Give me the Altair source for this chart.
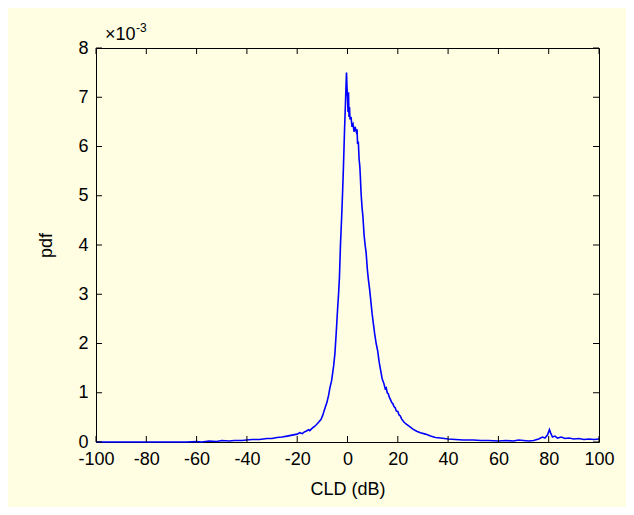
import altair as alt
import pandas as pd

# CLD (dB) values and pdf values (in units of 1e-3)
cld = [-100, -80, -64, -60, -58, -55, -52, -50, -47, -45, -42, -40, -38, -35, -32, -30,
       -28, -26, -24, -22, -20, -19, -18, -17, -16.5, -15.5, -15, -14, -13.5, -13, -12.4, -11.5, -10.5, -9.8,
       -9, -8.2, -7.5, -7, -6.3, -5.5, -5.0, -4.5, -4.0, -3.5, -3.2, -2.8, -2.3, -2.0,
       -1.6, -1.2, -0.8, -0.4, -0.2, 0.0, 0.2, 0.4, 0.6, 0.8, 1.0, 1.4, 1.8, 2.2, 2.6,
       3.0, 3.5, 3.8, 4.0, 4.3, 4.6, 4.9, 5.1, 5.4, 5.8, 6.1, 6.6, 7.0, 7.4, 7.9, 8.3,
       8.8, 9.3, 9.8, 10.3, 10.8, 11.4, 12.0, 12.6, 13.2, 13.8, 14.4, 15.0, 15.4, 15.8, 16.2, 16.7,
       17.1, 17.6, 18.0, 18.5, 19.0, 19.4, 20.0, 20.5, 21.0, 21.5, 22.5, 23.5, 24.5, 26, 27.5, 29, 31, 33, 35, 37, 40,
       43, 46, 50, 53, 56, 60, 63, 66, 68, 70, 72, 74, 76, 77.5, 78.5, 79.5, 80.3, 80.8,
       81.5, 82.5, 83.5, 85, 86.5, 88, 90, 92, 94, 96, 98, 100]
pdf = [0, 0, 0.0, 0.01, 0.0, 0.02, 0.01, 0.03, 0.02, 0.03, 0.03, 0.04, 0.05, 0.05, 0.07, 0.07,
       0.09, 0.10, 0.12, 0.14, 0.16, 0.19, 0.17, 0.21, 0.22, 0.25, 0.23, 0.28, 0.30, 0.32, 0.35, 0.40, 0.46, 0.55,
       0.68, 0.80, 0.95, 1.10, 1.25, 1.55, 1.80, 2.2, 2.65, 3.05, 3.35, 4.0, 4.6, 5.0,
       5.6, 6.3, 6.9, 7.5, 7.2, 7.0, 6.7, 7.1, 6.6, 6.8, 6.55, 6.6, 6.4, 6.45, 6.3,
       6.4, 6.3, 6.35, 6.05, 6.1, 5.75, 5.6, 5.4, 5.05, 4.75, 4.6, 4.2, 4.0, 3.85, 3.5, 3.3,
       3.1, 2.85, 2.6, 2.4, 2.2, 2.0, 1.85, 1.62, 1.45, 1.28, 1.2, 1.08, 1.1, 1.0, 0.98, 0.9,
       0.86, 0.8, 0.78, 0.72, 0.69, 0.63, 0.62, 0.55, 0.53, 0.47, 0.40, 0.36, 0.32, 0.26, 0.22, 0.19, 0.16, 0.12, 0.09, 0.08, 0.06,
       0.05, 0.04, 0.04, 0.03, 0.03, 0.02, 0.03, 0.02, 0.04, 0.03, 0.02, 0.03, 0.06, 0.10, 0.08, 0.14, 0.25, 0.18,
       0.10, 0.12, 0.08, 0.10, 0.07, 0.08, 0.06, 0.07, 0.05, 0.06, 0.05, 0.06]

x_ticks = [-100, -80, -60, -40, -20, 0, 20, 40, 60, 80, 100]
y_ticks = [0, 1, 2, 3, 4, 5, 6, 7, 8]

W, H = 503, 394
CREAM = "#FFFEE3"
FONT = "Liberation Sans"
TL = 6  # tick length

curve = pd.DataFrame({"cld": cld, "pdf": pdf})
xt = pd.DataFrame({"cld": x_ticks})
yt = pd.DataFrame({"pdf": y_ticks})

xscale = alt.Scale(domain=[-100, 100], nice=False, zero=False)
yscale = alt.Scale(domain=[0, 8], nice=False)

line = alt.Chart(curve).mark_line(color="#0000FF", strokeWidth=1.6).encode(
    x=alt.X("cld:Q", scale=xscale,
            axis=alt.Axis(values=x_ticks, ticks=False, domain=False, grid=False,
                          title="CLD (dB)", labelPadding=8, titlePadding=12,
                          labelFlush=False, labelOverlap=False,
                          labelExpr="datum.value + ''")),
    y=alt.Y("pdf:Q", scale=yscale,
            axis=alt.Axis(values=y_ticks, ticks=False, domain=False, grid=False,
                          title="pdf", labelPadding=8, titlePadding=22,
                          labelFlush=False, labelOverlap=False)),
)

bt = alt.Chart(xt).mark_rule(color="black", strokeWidth=1).encode(
    x=alt.X("cld:Q", scale=xscale), y=alt.value(H), y2=alt.value(H - TL))
tt = alt.Chart(xt).mark_rule(color="black", strokeWidth=1).encode(
    x=alt.X("cld:Q", scale=xscale), y=alt.value(0), y2=alt.value(TL))
lt = alt.Chart(yt).mark_rule(color="black", strokeWidth=1).encode(
    y=alt.Y("pdf:Q", scale=yscale), x=alt.value(0), x2=alt.value(TL))
rt = alt.Chart(yt).mark_rule(color="black", strokeWidth=1).encode(
    y=alt.Y("pdf:Q", scale=yscale), x=alt.value(W - TL), x2=alt.value(W))

exp_base = alt.Chart(pd.DataFrame({"t": ["\u00d710"]})).mark_text(
    align="left", baseline="alphabetic", font=FONT, fontSize=18, color="black"
).encode(text="t:N", x=alt.value(9), y=alt.value(-8))
exp_sup = alt.Chart(pd.DataFrame({"t": ["-3"]})).mark_text(
    align="left", baseline="alphabetic", font=FONT, fontSize=12, color="black"
).encode(text="t:N", x=alt.value(40), y=alt.value(-16))

chart = alt.layer(line, bt, tt, lt, rt, exp_base, exp_sup).properties(
    width=W, height=H,
    autosize=alt.AutoSizeParams(type="none"),
    padding={"left": 88, "top": 40, "right": 27, "bottom": 65},
    background=CREAM,
).configure_view(
    stroke="black", strokeWidth=1, fill=CREAM
).configure_axis(
    labelFont=FONT, titleFont=FONT, labelFontSize=18, titleFontSize=18,
    labelColor="black", titleColor="black", titleFontWeight="normal",
)

chart.save("out.html", embed_options={"renderer": "svg", "actions": False})
